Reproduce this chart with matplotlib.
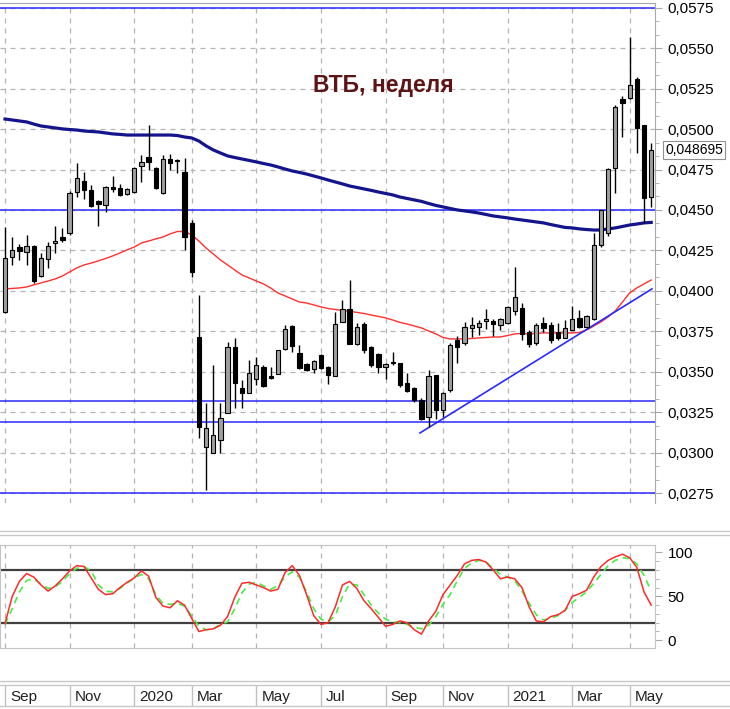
import numpy as np
import matplotlib
matplotlib.use('Agg')
import matplotlib.pyplot as plt
from matplotlib.ticker import MultipleLocator, AutoMinorLocator, FuncFormatter, FixedLocator

plt.rcParams['font.family'] = ['Liberation Sans', 'DejaVu Sans']

# weekly candles, Sep 2019 .. May 2021
opens = [0.03870, 0.04210, 0.04271, 0.04240, 0.04278, 0.04092, 0.04197, 0.04296, 0.04333, 0.04358,
         0.04611, 0.04679, 0.04624, 0.04556, 0.04531, 0.04642, 0.04636, 0.04599, 0.04611, 0.04772,
         0.04828, 0.04760, 0.04605, 0.04815, 0.04809, 0.04735, 0.04420, 0.03715, 0.03035, 0.02998,
         0.03079, 0.03245, 0.03653, 0.03400, 0.03369, 0.03456, 0.03530, 0.03474, 0.03487, 0.03641,
         0.03783, 0.03616, 0.03548, 0.03517, 0.03604, 0.03530, 0.03474, 0.03808, 0.03888, 0.03672,
         0.03795, 0.03653, 0.03610, 0.03530, 0.03561, 0.03554, 0.03431, 0.03400, 0.03326, 0.03221,
         0.03480, 0.03264, 0.03388, 0.03697, 0.03678, 0.03771, 0.03777, 0.03814, 0.03814, 0.03789,
         0.03802, 0.03876, 0.03894, 0.03746, 0.03678, 0.03802, 0.03789, 0.03746, 0.03709, 0.03758,
         0.03833, 0.03777, 0.03826, 0.04284, 0.04358, 0.04760, 0.05186, 0.05192, 0.05310, 0.05025,
         0.04580]
highs = [0.04395, 0.04333, 0.04290, 0.04346, 0.04284, 0.04234, 0.04302, 0.04401, 0.04389, 0.04617,
         0.04790, 0.04735, 0.04654, 0.04562, 0.04648, 0.04710, 0.04661, 0.04636, 0.04766, 0.04840,
         0.05025, 0.04766, 0.04840, 0.04846, 0.04815, 0.04821, 0.04438, 0.03975, 0.03307, 0.03542,
         0.03307, 0.03684, 0.03709, 0.03449, 0.03573, 0.03592, 0.03542, 0.03530, 0.03635, 0.03789,
         0.03789, 0.03666, 0.03554, 0.03573, 0.03610, 0.03536, 0.03870, 0.03944, 0.04067, 0.03802,
         0.03808, 0.03660, 0.03616, 0.03554, 0.03622, 0.03554, 0.03493, 0.03406, 0.03338, 0.03511,
         0.03480, 0.03375, 0.03678, 0.03721, 0.03808, 0.03839, 0.03820, 0.03888, 0.03826, 0.03833,
         0.03907, 0.04148, 0.03925, 0.03758, 0.03802, 0.03839, 0.03808, 0.03802, 0.03820, 0.03907,
         0.03882, 0.03851, 0.04358, 0.04500, 0.04760, 0.05149, 0.05205, 0.05569, 0.05322, 0.05025,
         0.04914]
lows = [0.03863, 0.04160, 0.04191, 0.04160, 0.04049, 0.04086, 0.04142, 0.04234, 0.04302, 0.04346,
        0.04580, 0.04568, 0.04519, 0.04401, 0.04488, 0.04611, 0.04587, 0.04593, 0.04605, 0.04673,
        0.04747, 0.04630, 0.04599, 0.04747, 0.04729, 0.04253, 0.04086, 0.03091, 0.02770, 0.02998,
        0.02998, 0.03245, 0.03276, 0.03276, 0.03369, 0.03419, 0.03406, 0.03456, 0.03487, 0.03635,
        0.03622, 0.03517, 0.03505, 0.03493, 0.03517, 0.03425, 0.03474, 0.03808, 0.03672, 0.03666,
        0.03616, 0.03530, 0.03493, 0.03456, 0.03542, 0.03406, 0.03375, 0.03313, 0.03202, 0.03159,
        0.03208, 0.03221, 0.03375, 0.03554, 0.03666, 0.03715, 0.03728, 0.03765, 0.03721, 0.03758,
        0.03795, 0.03851, 0.03697, 0.03653, 0.03666, 0.03746, 0.03678, 0.03697, 0.03709, 0.03758,
        0.03771, 0.03771, 0.03820, 0.04271, 0.04339, 0.04605, 0.04951, 0.05186, 0.04852, 0.04420,
        0.04519]
closes = [0.04203, 0.04253, 0.04247, 0.04278, 0.04061, 0.04203, 0.04278, 0.04308, 0.04315, 0.04605,
          0.04698, 0.04624, 0.04525, 0.04537, 0.04642, 0.04630, 0.04593, 0.04630, 0.04760, 0.04797,
          0.04797, 0.04636, 0.04815, 0.04790, 0.04803, 0.04333, 0.04117, 0.03159, 0.03153, 0.03110,
          0.03215, 0.03653, 0.03431, 0.03369, 0.03493, 0.03542, 0.03412, 0.03462, 0.03635, 0.03765,
          0.03660, 0.03524, 0.03511, 0.03567, 0.03524, 0.03480, 0.03795, 0.03888, 0.03672, 0.03777,
          0.03635, 0.03542, 0.03530, 0.03548, 0.03554, 0.03419, 0.03381, 0.03326, 0.03208, 0.03474,
          0.03264, 0.03369, 0.03666, 0.03653, 0.03777, 0.03789, 0.03802, 0.03826, 0.03795, 0.03826,
          0.03901, 0.03962, 0.03734, 0.03672, 0.03789, 0.03771, 0.03697, 0.03709, 0.03771, 0.03826,
          0.03777, 0.03845, 0.04284, 0.04500, 0.04753, 0.05137, 0.05161, 0.05273, 0.05007, 0.04574,
          0.048695]

ma_long = [0.05062, 0.05056, 0.05050, 0.05044, 0.05031, 0.05019, 0.05013, 0.05007, 0.05001, 0.04997,
           0.04994, 0.04988, 0.04985, 0.04982, 0.04976, 0.04970, 0.04967, 0.04963, 0.04963, 0.04963,
           0.04963, 0.04963, 0.04963, 0.04963, 0.04960, 0.04951, 0.04945, 0.04926, 0.04896, 0.04871,
           0.04852, 0.04834, 0.04824, 0.04815, 0.04806, 0.04797, 0.04787, 0.04778, 0.04766, 0.04753,
           0.04741, 0.04732, 0.04722, 0.04710, 0.04698, 0.04685, 0.04673, 0.04661, 0.04648, 0.04639,
           0.04630, 0.04621, 0.04611, 0.04602, 0.04593, 0.04580, 0.04571, 0.04562, 0.04553, 0.04540,
           0.04528, 0.04519, 0.04509, 0.04500, 0.04494, 0.04488, 0.04481, 0.04472, 0.04463, 0.04457,
           0.04451, 0.04444, 0.04438, 0.04432, 0.04426, 0.04420, 0.04410, 0.04401, 0.04392, 0.04389,
           0.04383, 0.04379, 0.04376, 0.04376, 0.04383, 0.04389, 0.04398, 0.04407, 0.04413, 0.04420,
           0.04423]
ma_short = [0.04012, 0.04015, 0.04018, 0.04024, 0.04037, 0.04049, 0.04061, 0.04074, 0.04092, 0.04117,
            0.04142, 0.04160, 0.04172, 0.04185, 0.04200, 0.04216, 0.04234, 0.04253, 0.04271, 0.04296,
            0.04308, 0.04321, 0.04333, 0.04352, 0.04367, 0.04367, 0.04346, 0.04308, 0.04265, 0.04228,
            0.04191, 0.04160, 0.04129, 0.04098, 0.04080, 0.04061, 0.04043, 0.04018, 0.03987, 0.03969,
            0.03950, 0.03931, 0.03925, 0.03913, 0.03901, 0.03891, 0.03885, 0.03879, 0.03873, 0.03867,
            0.03860, 0.03851, 0.03842, 0.03833, 0.03820, 0.03805, 0.03795, 0.03783, 0.03771, 0.03752,
            0.03734, 0.03712, 0.03703, 0.03703, 0.03703, 0.03706, 0.03709, 0.03712, 0.03715, 0.03715,
            0.03724, 0.03734, 0.03737, 0.03734, 0.03737, 0.03740, 0.03740, 0.03740, 0.03740, 0.03740,
            0.03743, 0.03758, 0.03783, 0.03808, 0.03839, 0.03876, 0.03931, 0.03987, 0.04018, 0.04043,
            0.04067]

stoch_k = [19, 50, 67, 76, 72, 63, 56, 62, 70, 79,
           85, 84, 71, 58, 52, 53, 60, 66, 71, 79,
           73, 49, 39, 37, 45, 40, 25, 10, 12, 13,
           17, 27, 49, 65, 66, 63, 60, 56, 58, 77,
           85, 74, 52, 28, 18, 20, 38, 63, 67, 59,
           45, 36, 26, 16, 18, 22, 20, 12, 7, 22,
           33, 52, 63, 74, 87, 91, 92, 89, 80, 70,
           72, 70, 60, 38, 22, 21, 27, 29, 34, 50,
           53, 57, 72, 84, 91, 95, 98, 94, 83, 55,
           40]
stoch_d = [18, 36, 55, 68, 70, 64, 59, 61, 67, 76,
           82, 84, 79, 63, 56, 55, 59, 65, 71, 75,
           70, 52, 42, 41, 42, 39, 28, 16, 12, 13,
           18, 21, 36, 54, 64, 66, 62, 58, 62, 72,
           78, 72, 55, 36, 24, 21, 28, 50, 64, 63,
           52, 40, 31, 24, 21, 20, 18, 15, 13, 17,
           27, 41, 52, 68, 82, 88, 91, 89, 82, 75,
           72, 68, 56, 42, 29, 23, 25, 28, 34, 43,
           49, 55, 65, 75, 85, 91, 94, 93, 87, 74,
           56]

levels = [0.0575, 0.0450, 0.0332, 0.0319, 0.0275]
trend_idx = [57.8, 90.1]
trend_val = [0.03122, 0.04012]
stoch_levels = [20, 80]

month_idx = [0, 9, 18, 26, 35, 44, 53, 61, 70, 79, 87]
month_lbl = ['Sep', 'Nov', '2020', 'Mar', 'May', 'Jul', 'Sep', 'Nov', '2021', 'Mar', 'May']

title = 'ВТБ, неделя'
last_price = closes[-1]

W, H = 730, 709
fig = plt.figure(figsize=(W / 100, H / 100), dpi=100)

def frac(x0, y0, x1, y1):
    return [x0 / W, 1 - y1 / H, (x1 - x0) / W, (y1 - y0) / H]

xs = np.arange(len(closes))
xlim = (-0.7, 90.53)
grid_col = '#b4b4b4'
spine_col = '#a8a8a8'

# ---- price pane
ax = fig.add_axes(frac(0, 3, 655, 503))
ax.set_xlim(*xlim)
ax.set_ylim(0.02689, 0.05779)
for s in ['left', 'bottom']:
    ax.spines[s].set_visible(False)
for s in ['top', 'right']:
    ax.spines[s].set_color(spine_col)
ax.yaxis.tick_right()
ax.yaxis.set_major_locator(MultipleLocator(0.0025))
ax.yaxis.set_minor_locator(AutoMinorLocator(3))
ax.yaxis.set_major_formatter(FuncFormatter(lambda v, p: ('%.4f' % v).replace('.', ',')))
ax.tick_params(axis='y', which='major', length=5, color=spine_col, labelsize=11, pad=4)
ax.tick_params(axis='y', which='minor', length=3, color=spine_col)
ax.set_xticks([])
ax.grid(axis='y', color=grid_col, linestyle=(0, (4, 4)), lw=0.9)
for m in month_idx:
    ax.axvline(m, color=grid_col, linestyle=(0, (4, 4)), lw=0.9, zorder=0)

for lv in levels:
    ax.axhline(lv, color='#2a2aff', lw=1.1, zorder=2)

ax.plot(xs, ma_long, color='#14148c', lw=2.3, zorder=3)
ax.plot(xs, ma_short, color='#ff3030', lw=1.0, zorder=3)
ax.plot(trend_idx, trend_val, color='#2a2aff', lw=1.2, zorder=3)

for i in xs:
    o, h, l, c = opens[i], highs[i], lows[i], closes[i]
    ax.vlines(i, l, h, color='black', lw=1.0, zorder=4)
    body = max(abs(c - o), 0.00004)
    col = '#a0a0a0' if c >= o else 'black'
    ax.bar(i, body, bottom=min(o, c), width=0.6, color=col, edgecolor='black', lw=0.8, zorder=5)

ax.text(0.585, 0.835, title, transform=ax.transAxes, ha='center', va='center',
        fontsize=16.5, fontweight='bold', color='#5c1414')

ax.text(1.016, last_price, ('%.6f' % last_price).replace('.', ','), transform=ax.get_yaxis_transform(),
        ha='left', va='center', fontsize=10,
        bbox=dict(boxstyle='square,pad=0.15', fc='white', ec='#909090', lw=0.8))

# ---- oscillator pane
ax2 = fig.add_axes(frac(0, 545, 655, 648))
ax2.set_xlim(*xlim)
ax2.set_ylim(-8.8, 108.5)
for s in ax2.spines.values():
    s.set_color('#c4c4c4')
ax2.yaxis.tick_right()
ax2.yaxis.set_major_locator(FixedLocator([0, 50, 100]))
ax2.yaxis.set_minor_locator(MultipleLocator(10))
ax2.tick_params(axis='y', which='major', length=5, color=spine_col, labelsize=11, pad=4)
ax2.tick_params(axis='y', which='minor', length=3, color=spine_col)
ax2.set_xticks([])
for m in month_idx:
    ax2.axvline(m, color=grid_col, linestyle=(0, (4, 4)), lw=0.9, zorder=0)
for lv in stoch_levels:
    ax2.axhline(lv, color='#404040', lw=1.6, zorder=1)
ax2.plot(xs, stoch_d, color='#44ee44', lw=1.2, linestyle=(0, (4, 3)), zorder=2)
ax2.plot(xs, stoch_k, color='#ff2a2a', lw=1.1, zorder=3)

# ---- date strip
ax3 = fig.add_axes(frac(0, 686, 655, 706))
ax3.set_xlim(*xlim)
ax3.set_ylim(0, 1)
ax3.axis('off')
for m, lbl in zip(month_idx, month_lbl):
    ax3.axvline(m, color='#c0c0c0', lw=1.0)
    ax3.text(m + 0.7, 0.45, lbl, ha='left', va='center', fontsize=11, color='#202020')

# pane separators
for y in [531, 535, 681, 685, 706]:
    fig.add_artist(plt.Line2D([0, 1], [1 - y / H, 1 - y / H], transform=fig.transFigure,
                              color='#c8c8c8', lw=1.0))

fig.savefig('out.png', dpi=100)
